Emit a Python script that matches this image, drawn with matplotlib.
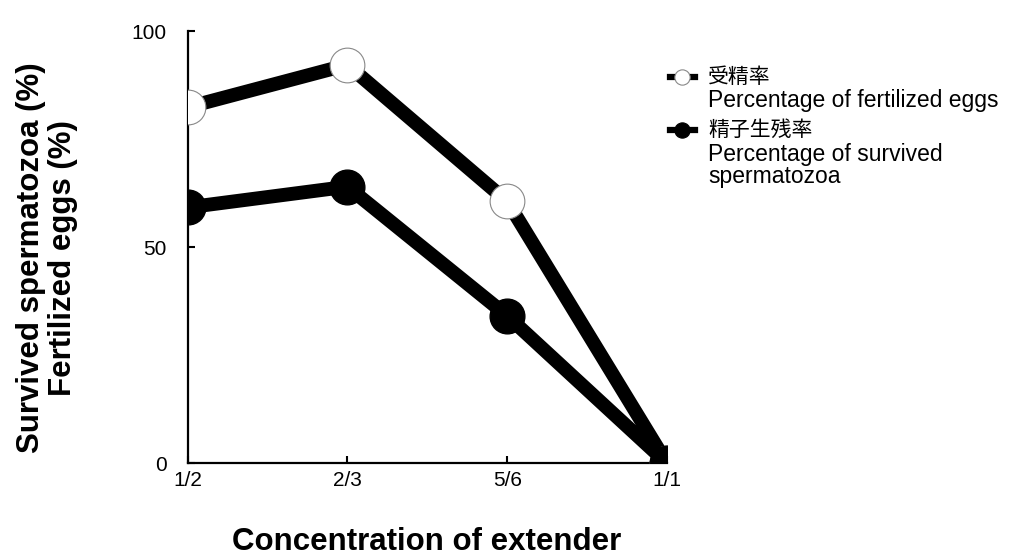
import matplotlib
matplotlib.use("Agg")
import matplotlib.pyplot as plt
from matplotlib.lines import Line2D

plt.rcParams['font.family'] = ['Liberation Sans', 'Noto Sans CJK JP', 'DejaVu Sans']

# donnees
concentrations = ["1/2", "2/3", "5/6", "1/1"]
fertilized = [82.4, 92.2, 60.6, 0]   # 受精率
survived = [59.2, 64.0, 34.1, 0]     # 精子生残率
y_ticks = [0, 50, 100]

fig = plt.figure(figsize=(10.09, 5.56), dpi=100)
ax = fig.add_axes([0.186, 0.167, 0.475, 0.777])

x = list(range(len(concentrations)))
ax.plot(x, fertilized, color='black', linewidth=10, marker='o', markersize=25,
        markerfacecolor='white', markeredgecolor='#888888', markeredgewidth=0.8, zorder=3)
ax.plot(x, survived, color='black', linewidth=10, marker='o', markersize=25,
        markerfacecolor='black', markeredgecolor='black', zorder=3)

ax.set_xlim(0, len(concentrations) - 1)
ax.set_ylim(0, 100)
ax.set_xticks(x)
ax.set_xticklabels(concentrations)
ax.set_yticks(y_ticks)

for s in ['top', 'right']:
    ax.spines[s].set_visible(False)
for s in ['left', 'bottom']:
    ax.spines[s].set_linewidth(1.6)
ax.tick_params(axis='both', direction='in', length=5, width=1.5, labelsize=15)
ax.tick_params(axis='y', pad=15)
ax.tick_params(axis='x', pad=6)

# titres des axes
fig.text(47 / 1009, 1 - 258 / 556, "Survived spermatozoa (%)\nFertilized eggs (%)",
         rotation=90, ha='center', va='center', multialignment='center',
         fontsize=22.5, fontweight='bold', linespacing=1.1)
fig.text(427 / 1009, 1 - 542 / 556, "Concentration of extender",
         ha='center', va='center', fontsize=22.5, fontweight='bold')

# legende dessinee a la main
leg_x0, leg_x1 = 670 / 1009, 695 / 1009
for yy, face, edge in [(77, 'white', '#888888'), (130, 'black', 'black')]:
    yf = 1 - yy / 556
    fig.add_artist(Line2D([leg_x0, leg_x1], [yf, yf], transform=fig.transFigure,
                          color='black', linewidth=4.5))
    fig.add_artist(Line2D([(leg_x0 + leg_x1) / 2], [yf], transform=fig.transFigure,
                          marker='o', markersize=11, markerfacecolor=face,
                          markeredgecolor=edge, markeredgewidth=0.8, linestyle='none'))

legend_lines = [("受精率", 77, 15), ("Percentage of fertilized eggs", 101, 16.5),
                ("精子生残率", 130, 15), ("Percentage of survived", 155, 16.5),
                ("spermatozoa", 176, 16.5)]
for txt, yy, fs in legend_lines:
    fig.text(708 / 1009, 1 - yy / 556, txt, ha='left', va='center', fontsize=fs)

fig.savefig("out.png", dpi=100)
